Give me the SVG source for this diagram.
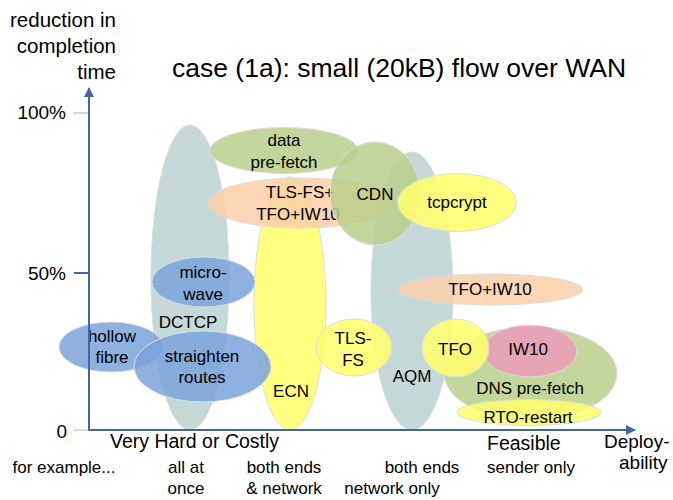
<svg xmlns="http://www.w3.org/2000/svg" width="673" height="500" viewBox="0 0 673 500">
<defs>
<style>
text{font-family:"Liberation Sans",Arial,sans-serif;fill:#000}
.lbl{font-size:17px;text-anchor:middle}
.ax{font-size:19.5px}
.sm{font-size:17px;text-anchor:middle}
ellipse{stroke:#dcdcdc;stroke-width:1;fill-opacity:0.85}
.grey{fill:#bbd2d2}
.green{fill:#b9cf8a}
.peach{fill:#fccfa8}
.yellow{fill:#ffff6a}
.blue{fill:#7aa3da}
.pink{fill:#ec9cb9}
.axis{stroke:#43679c;stroke-width:2;fill:none}
.tick{stroke:#d9d9d9;stroke-width:2}
</style>
<marker id="ah" viewBox="0 0 10 10" refX="9" refY="5" markerWidth="5" markerHeight="5" orient="auto" markerUnits="strokeWidth">
<path d="M0,0 L10,5 L0,10 z" fill="#43679c"/>
</marker>
</defs>
<rect width="673" height="500" fill="#fff"/>

<g id="title-labels">
<text x="116" y="27" text-anchor="end" style="font-size:20.5px">reduction in</text>
<text x="116" y="53" text-anchor="end" style="font-size:20.5px">completion</text>
<text x="116" y="79" text-anchor="end" style="font-size:20.5px">time</text>
<text x="172" y="77" style="font-size:26.5px">case (1a): small (20kB) flow over WAN</text>
<text x="66" y="119" text-anchor="end" style="font-size:19px">100%</text>
<text x="66" y="280" text-anchor="end" style="font-size:19px">50%</text>
<text x="67" y="438" text-anchor="end" style="font-size:19px">0</text>
<text x="110" y="448" class="ax">Very Hard or Costly</text>
<text x="487" y="450" class="ax">Feasible</text>
<text x="604" y="448" style="font-size:19px">Deploy-</text>
<text x="619" y="469" style="font-size:19px">ability</text>
<text x="64" y="473" class="sm">for example...</text>
<text x="186" y="473" class="sm">all at</text>
<text x="186" y="494" class="sm">once</text>
<text x="284" y="473" class="sm">both ends</text>
<text x="284" y="494" class="sm">&amp; network</text>
<text x="422" y="473" class="sm">both ends</text>
<text x="392" y="494" class="sm">network only</text>
<text x="531" y="473" class="sm">sender only</text>
</g>

<g id="dctcp"><ellipse class="grey" cx="190" cy="277.5" rx="39" ry="152.5"/><text class="lbl" x="188" y="328">DCTCP</text></g>
<g id="aqm"><ellipse class="grey" cx="412" cy="291" rx="41" ry="139"/><text class="lbl" x="412" y="382">AQM</text></g>
<g id="ecn"><ellipse class="yellow" cx="290" cy="303.5" rx="36" ry="126.5"/><text class="lbl" x="291" y="397">ECN</text></g>
<g id="data-prefetch"><ellipse class="green" cx="284" cy="150.5" rx="74" ry="23"/><text class="lbl" x="284" y="146">data</text><text class="lbl" x="284" y="168">pre-fetch</text></g>
<g id="tlsfs-tfo-iw10"><ellipse class="peach" cx="300" cy="203" rx="92" ry="25"/><text class="lbl" x="300" y="198">TLS-FS+</text><text class="lbl" x="298" y="220">TFO+IW10</text></g>
<g id="cdn"><ellipse class="green" cx="375" cy="193.5" rx="45" ry="51.5"/><text class="lbl" x="375" y="200">CDN</text></g>
<g id="tcpcrypt"><ellipse class="yellow" cx="457" cy="202.5" rx="59.5" ry="29"/><text class="lbl" x="457" y="208">tcpcrypt</text></g>
<g id="tfo-iw10"><ellipse class="peach" cx="490.5" cy="289.5" rx="92.5" ry="15.5"/><text class="lbl" x="490" y="295">TFO+IW10</text></g>
<g id="microwave"><ellipse class="blue" cx="203.5" cy="282" rx="51.5" ry="25"/><text class="lbl" x="203" y="278">micro-</text><text class="lbl" x="203" y="300">wave</text></g>
<g id="hollow-fibre"><ellipse class="blue" cx="111" cy="347" rx="52" ry="25"/><text class="lbl" x="112" y="342">hollow</text><text class="lbl" x="112" y="363">fibre</text></g>
<g id="straighten-routes"><ellipse class="blue" cx="202.5" cy="366.5" rx="68.5" ry="35.5"/><text class="lbl" x="202" y="362">straighten</text><text class="lbl" x="202" y="383">routes</text></g>
<g id="tls-fs"><ellipse class="yellow" cx="354" cy="347.5" rx="38" ry="28.5"/><text class="lbl" x="353" y="344">TLS-</text><text class="lbl" x="353" y="366">FS</text></g>
<g id="dns-prefetch"><ellipse class="green" cx="530.5" cy="373.5" rx="86.5" ry="46.5"/><text class="lbl" x="530" y="394">DNS pre-fetch</text></g>
<g id="iw10"><ellipse class="pink" cx="530" cy="351" rx="47" ry="26"/><text class="lbl" x="528" y="355">IW10</text></g>
<g id="tfo"><ellipse class="yellow" cx="455.5" cy="348" rx="33.5" ry="29"/><text class="lbl" x="455" y="355">TFO</text></g>
<g id="rto-restart"><ellipse class="yellow" cx="529" cy="412.5" rx="72" ry="13"/><text class="lbl" x="528" y="423">RTO-restart</text></g>

<g id="connectors">
<line class="tick" x1="73" y1="113" x2="89" y2="113"/>
<line class="tick" x1="73" y1="430" x2="89" y2="430"/>
<line class="axis" x1="74" y1="273" x2="89" y2="273"/>
<line class="axis" x1="89" y1="430" x2="89" y2="88" marker-end="url(#ah)"/>
<line class="axis" x1="88" y1="430" x2="635" y2="430" marker-end="url(#ah)"/>
</g>
</svg>
